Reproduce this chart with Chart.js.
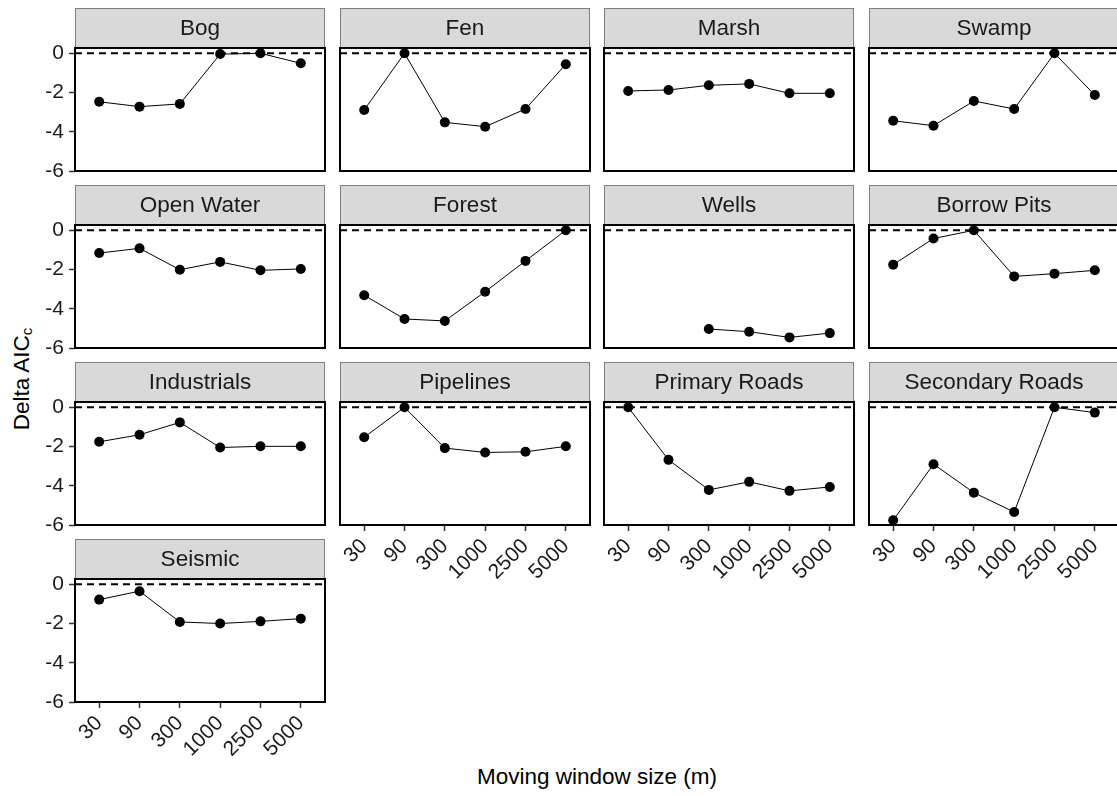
<!DOCTYPE html>
<html>
<head>
<meta charset="utf-8">
<title>Delta AICc by moving window size</title>
<script src="https://cdn.jsdelivr.net/npm/chart.js@4.4.1/dist/chart.umd.min.js"></script>
<style>
  html, body { margin: 0; padding: 0; background: #ffffff; }
  body { width: 1117px; height: 796px; position: relative; overflow: hidden;
         font-family: "Liberation Sans", Arial, Helvetica, sans-serif; }
  .panel { position: absolute; }
  .axis-title { position: absolute; color: #000; font-size: 22.5px; white-space: nowrap;
                font-family: "Liberation Sans", Arial, Helvetica, sans-serif; }
  #ytitle { left: 22px; top: 379px; transform: translate(-50%, -50%) rotate(-90deg); }
  #xtitle { left: 597px; top: 777px; transform: translate(-50%, -50%); }
  #ytitle sub { font-size: 15px; vertical-align: -3px; }
</style>
</head>
<body>
<div id="ytitle" class="axis-title">Delta AIC<sub>c</sub></div>
<div id="xtitle" class="axis-title">Moving window size (m)</div>

<script>
// Moving window sizes (m), one category per tick
const windowSizes = ['30', '90', '300', '1000', '2500', '5000'];
const yTicks = [0, -2, -4, -6];
const referenceLevel = 0;

// Delta AICc per landscape variable
const bog            = [-2.47, -2.72, -2.58, -0.04, 0.00, -0.51];
const fen            = [-2.89, 0.00, -3.52, -3.74, -2.84, -0.56];
const marsh          = [-1.92, -1.87, -1.63, -1.56, -2.04, -2.04];
const swamp          = [-3.44, -3.69, -2.43, -2.84, 0.00, -2.13];
const openWater      = [-1.16, -0.92, -2.01, -1.61, -2.04, -1.97];
const forest         = [-3.31, -4.52, -4.62, -3.13, -1.56, 0.00];
const wells          = [null, null, -5.03, -5.17, -5.46, -5.24];
const borrowPits     = [-1.75, -0.42, 0.00, -2.35, -2.21, -2.04];
const industrials    = [-1.76, -1.40, -0.77, -2.05, -1.99, -1.99];
const pipelines      = [-1.53, 0.00, -2.08, -2.30, -2.27, -1.99];
const primaryRoads   = [0.00, -2.68, -4.21, -3.80, -4.26, -4.06];
const secondaryRoads = [-5.76, -2.90, -4.35, -5.34, 0.00, -0.27];
const seismic        = [-0.78, -0.35, -1.92, -2.00, -1.89, -1.75];

const facetNames = ['Bog', 'Fen', 'Marsh', 'Swamp', 'Open Water', 'Forest', 'Wells',
  'Borrow Pits', 'Industrials', 'Pipelines', 'Primary Roads', 'Secondary Roads', 'Seismic'];
const facetValues = [bog, fen, marsh, swamp, openWater, forest, wells,
  borrowPits, industrials, pipelines, primaryRoads, secondaryRoads, seismic];

// facet grid geometry
const NCOL = 4;
const colLeft = [75, 339.7, 604.3, 869];
const rowTop = [8, 185, 362, 539];
const PANEL_W = 251;
const PANEL_H = 123;
const STRIP_H = 40;
const YAXIS_W = 60;
const XAXIS_H = 75;
const RIGHT_PAD = 4;
const X_MIN = 0.4, X_MAX = windowSizes.length + 0.6;
const Y_MIN = -6, Y_MAX = 0.27;
const FONT = '"Liberation Sans", Arial, Helvetica, sans-serif';

// strip header + panel border
const facetFrame = {
  id: 'facetFrame',
  beforeDraw(chart, args, opts) {
    const { ctx, chartArea: ca } = chart;
    ctx.save();
    ctx.fillStyle = '#d9d9d9';
    ctx.fillRect(ca.left, ca.top - STRIP_H, ca.right - ca.left, STRIP_H);
    ctx.strokeStyle = '#7f7f7f';
    ctx.lineWidth = 1;
    ctx.strokeRect(ca.left + 0.5, ca.top - STRIP_H + 0.5, ca.right - ca.left - 1, STRIP_H);
    ctx.fillStyle = '#1a1a1a';
    ctx.font = '22.5px ' + FONT;
    ctx.textAlign = 'center';
    ctx.textBaseline = 'middle';
    ctx.fillText(opts.label, (ca.left + ca.right) / 2, ca.top - STRIP_H / 2 + 1);
    ctx.restore();
  },
  afterDatasetsDraw(chart) {
    const { ctx, chartArea: ca } = chart;
    ctx.save();
    ctx.strokeStyle = '#000000';
    ctx.lineWidth = 2;
    ctx.strokeRect(ca.left, ca.top, ca.right - ca.left, ca.bottom - ca.top);
    ctx.restore();
  }
};

function makePanel(i) {
  const row = Math.floor(i / NCOL);
  const col = i % NCOL;
  const showY = col === 0;
  const showX = (i + NCOL) >= facetNames.length;

  const div = document.createElement('div');
  div.className = 'panel';
  div.style.left = (colLeft[col] - YAXIS_W) + 'px';
  div.style.top = rowTop[row] + 'px';
  div.style.width = (YAXIS_W + PANEL_W + RIGHT_PAD) + 'px';
  div.style.height = (STRIP_H + PANEL_H + XAXIS_H) + 'px';
  const canvas = document.createElement('canvas');
  div.appendChild(canvas);
  document.body.appendChild(div);

  const values = facetValues[i];
  const points = values.map((v, k) => ({ x: k + 1, y: v }));

  new Chart(canvas, {
    type: 'line',
    data: {
      datasets: [
        {
          data: [{ x: X_MIN, y: referenceLevel }, { x: X_MAX, y: referenceLevel }],
          borderColor: '#000000',
          borderWidth: 2,
          borderDash: [7, 5],
          pointRadius: 0,
          clip: false
        },
        {
          data: points,
          borderColor: '#000000',
          borderWidth: 1,
          pointRadius: 5,
          pointHoverRadius: 5,
          pointBackgroundColor: '#000000',
          pointBorderWidth: 0,
          tension: 0,
          spanGaps: false,
          clip: false
        }
      ]
    },
    options: {
      responsive: true,
      maintainAspectRatio: false,
      animation: false,
      devicePixelRatio: 1,
      events: [],
      layout: { padding: { top: STRIP_H, left: 0, right: RIGHT_PAD, bottom: 0 } },
      plugins: {
        legend: { display: false },
        tooltip: { enabled: false },
        facetFrame: { label: facetNames[i] }
      },
      scales: {
        x: {
          type: 'linear',
          min: X_MIN,
          max: X_MAX,
          afterBuildTicks(scale) { scale.ticks = windowSizes.map((_, k) => ({ value: k + 1 })); },
          afterFit(scale) { scale.height = XAXIS_H; },
          border: { display: false },
          grid: {
            display: showX,
            drawOnChartArea: false,
            drawTicks: true,
            tickLength: 6,
            tickColor: '#333333',
            tickWidth: 1.5
          },
          ticks: {
            display: showX,
            autoSkip: false,
            minRotation: 45,
            maxRotation: 45,
            padding: 3,
            color: '#1a1a1a',
            font: { family: FONT, size: 21 },
            callback: (value, index) => windowSizes[index]
          }
        },
        y: {
          type: 'linear',
          min: Y_MIN,
          max: Y_MAX,
          afterBuildTicks(scale) { scale.ticks = yTicks.map(v => ({ value: v })); },
          afterFit(scale) { scale.width = YAXIS_W; },
          border: { display: false },
          grid: {
            display: showY,
            drawOnChartArea: false,
            drawTicks: true,
            tickLength: 6,
            tickColor: '#333333',
            tickWidth: 1.5
          },
          ticks: {
            display: showY,
            padding: 5,
            color: '#1a1a1a',
            font: { family: FONT, size: 21 },
            callback: (value) => String(value)
          }
        }
      }
    },
    plugins: [facetFrame]
  });
}

facetNames.forEach((_, i) => makePanel(i));
</script>
</body>
</html>
